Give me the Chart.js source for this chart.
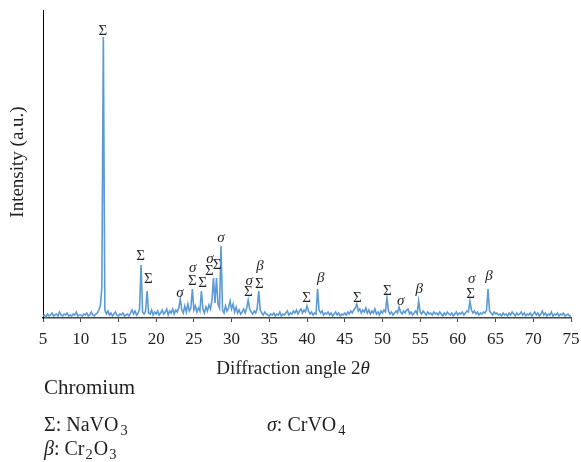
<!DOCTYPE html>
<html>
<head>
<meta charset="utf-8">
<script src="https://cdn.jsdelivr.net/npm/chart.js@4"></script>
<style>
  html, body { margin: 0; padding: 0; background: #fff; }
  #wrap { width: 581px; height: 462px; }
</style>
</head>
<body>
<div id="wrap"><canvas id="xrd" width="581" height="462"></canvas></div>
<script>
// sampling grid of the scan (2theta, degrees)
const angleStart = 5;
const angleStep = 0.2;

// intensity (a.u.), one row per 5 degrees
const intensity = [
  2,3,1,4,2,3,5,2,3,4,2,6,3,2,4,3,5,2,3,2,4,3,6,2,3,          // 5
  3,2,4,3,5,2,3,6,3,2,4,5,8,12,30,281,8,4,7,3,5,2,4,6,3,      // 10
  2,4,3,5,2,3,4,2,5,8,4,7,3,5,9,53,6,4,7,27,5,4,8,3,6,        // 15
  4,7,3,5,8,4,6,9,3,7,5,9,4,8,6,10,19,8,5,12,6,14,7,10,29,    // 20
  8,12,6,10,7,27,9,5,11,7,13,9,18,40,15,40,14,10,72,8,5,12,7,10,17, // 25
  9,14,6,11,5,8,4,6,9,5,10,18,9,6,4,7,5,10,27,8,5,3,6,4,3,    // 30
  2,4,3,5,2,4,3,6,2,4,3,5,7,3,5,4,7,5,8,4,7,9,5,8,6,          // 35
  12,7,4,6,3,5,4,29,8,5,7,3,5,4,6,3,5,2,4,6,3,5,2,4,3,        // 40
  5,3,6,4,7,5,8,10,14,7,9,5,8,6,10,5,8,4,7,5,9,4,6,3,7,       // 45
  5,8,6,20,7,4,6,3,5,7,5,11,6,4,7,5,8,9,4,6,3,5,7,4,17,       // 50
  6,4,7,5,3,6,4,5,3,6,4,5,3,6,4,2,5,3,6,4,3,5,2,4,6,          // 55
  3,5,4,6,3,5,7,6,17,8,5,7,4,6,3,5,4,6,5,8,29,7,5,3,6,        // 60
  4,5,3,4,2,5,3,4,2,5,3,6,4,2,5,3,4,6,3,5,2,4,3,5,2,          // 65
  4,6,3,5,2,4,7,3,5,2,4,3,6,2,4,3,5,2,4,3,5,2,3,4,2,          // 70
  2                                                           // 75
];

// phase marks above the peaks
const peakAngles  = [12.95, 17.95, 18.96, 23.16, 24.84, 24.8, 26.17, 27.14, 27.05, 28.1, 28.6,
                     32.35, 32.22, 33.77, 33.68, 39.96, 41.82, 46.67, 50.65, 52.42, 54.89,
                     61.83, 61.7, 64.13];
const peakHeights = [283, 58, 35, 21, 46, 33, 31, 55, 43, 49, 76,
                     33, 22, 48, 30, 16, 36, 16, 23, 13, 25,
                     35, 20, 38];
const peakSymbols = ['Σ','Σ','Σ','σ','σ','Σ','Σ','σ','Σ','Σ','σ',
                     'σ','Σ','β','Σ','Σ','β','Σ','Σ','σ','β',
                     'σ','Σ','β'];

const FONT = '"Liberation Serif", "DejaVu Serif", serif';
const INK = '#231f20';

const points = intensity.map((v, i) => ({ x: +(angleStart + i * angleStep).toFixed(1), y: v }));

function drawRich(ctx, x, y, parts, size) {
  parts.forEach(p => {
    const s = p.sub ? size * 0.72 : size;
    ctx.font = (p.it ? 'italic ' : '') + s + 'px ' + FONT;
    ctx.fillText(p.t, x, p.sub ? y + size * 0.22 : y);
    x += ctx.measureText(p.t).width + (p.gap || 0);
  });
}

const extras = {
  id: 'extras',
  afterDraw(chart) {
    const ctx = chart.ctx;
    const xs = chart.scales.x, ys = chart.scales.y;
    ctx.save();
    ctx.fillStyle = INK;
    ctx.textBaseline = 'alphabetic';

    // peak symbols
    ctx.textAlign = 'center';
    peakSymbols.forEach((s, i) => {
      ctx.font = (s === 'Σ' ? '' : 'italic ') + '15px ' + FONT;
      ctx.fillText(s, xs.getPixelForValue(peakAngles[i]), ys.getPixelForValue(peakHeights[i]));
    });

    // x title
    ctx.textAlign = 'left';
    ctx.font = '19px ' + FONT;
    const t1 = 'Diffraction angle 2';
    const w1 = ctx.measureText(t1).width;
    ctx.font = 'italic 19px ' + FONT;
    const w2 = ctx.measureText('θ').width;
    const x0 = 293 - (w1 + w2) / 2;
    drawRich(ctx, x0, 374, [{ t: t1 }, { t: 'θ', it: true }], 19);

    // y title
    ctx.save();
    ctx.translate(23, 162);
    ctx.rotate(-Math.PI / 2);
    ctx.textAlign = 'center';
    ctx.font = '19px ' + FONT;
    ctx.fillText('Intensity (a.u.)', 0, 0);
    ctx.restore();

    // key
    ctx.textAlign = 'left';
    ctx.font = '21px ' + FONT;
    ctx.fillText('Chromium', 44, 394);
    drawRich(ctx, 44, 431, [{ t: 'Σ' }, { t: ': NaVO', gap: 2 }, { t: '3', sub: true }], 20);
    drawRich(ctx, 267, 431, [{ t: 'σ', it: true }, { t: ': CrVO', gap: 2 }, { t: '4', sub: true }], 20);
    drawRich(ctx, 44, 455, [{ t: 'β', it: true }, { t: ': Cr', gap: 1 }, { t: '2', sub: true, gap: 1 }, { t: 'O', gap: 1 }, { t: '3', sub: true }], 20);
    ctx.restore();
  }
};

new Chart(document.getElementById('xrd'), {
  type: 'line',
  data: {
    datasets: [{
      data: points,
      borderColor: '#5b9bd5',
      borderWidth: 1.6,
      pointRadius: 0,
      tension: 0,
      fill: false
    }]
  },
  options: {
    responsive: false,
    animation: false,
    events: [],
    layout: { padding: { top: 10, right: 10, left: 0, bottom: 0 } },
    plugins: { legend: { display: false }, tooltip: { enabled: false } },
    scales: {
      x: {
        type: 'linear',
        min: 5,
        max: 75,
        afterFit: s => { s.height = 144; s.paddingLeft = 0; s.paddingRight = 0; },
        ticks: {
          stepSize: 5,
          padding: 7,
          color: INK,
          font: { family: FONT, size: 17 }
        },
        grid: { drawOnChartArea: false, drawTicks: true, tickLength: 4, color: '#444', lineWidth: 1 },
        border: { display: true, color: '#444', width: 1.5 }
      },
      y: {
        min: 0,
        max: 308,
        afterFit: s => { s.width = 43; },
        ticks: { display: false },
        grid: { display: false },
        border: { display: true, color: '#000', width: 1 }
      }
    }
  },
  plugins: [extras]
});
</script>
</body>
</html>
